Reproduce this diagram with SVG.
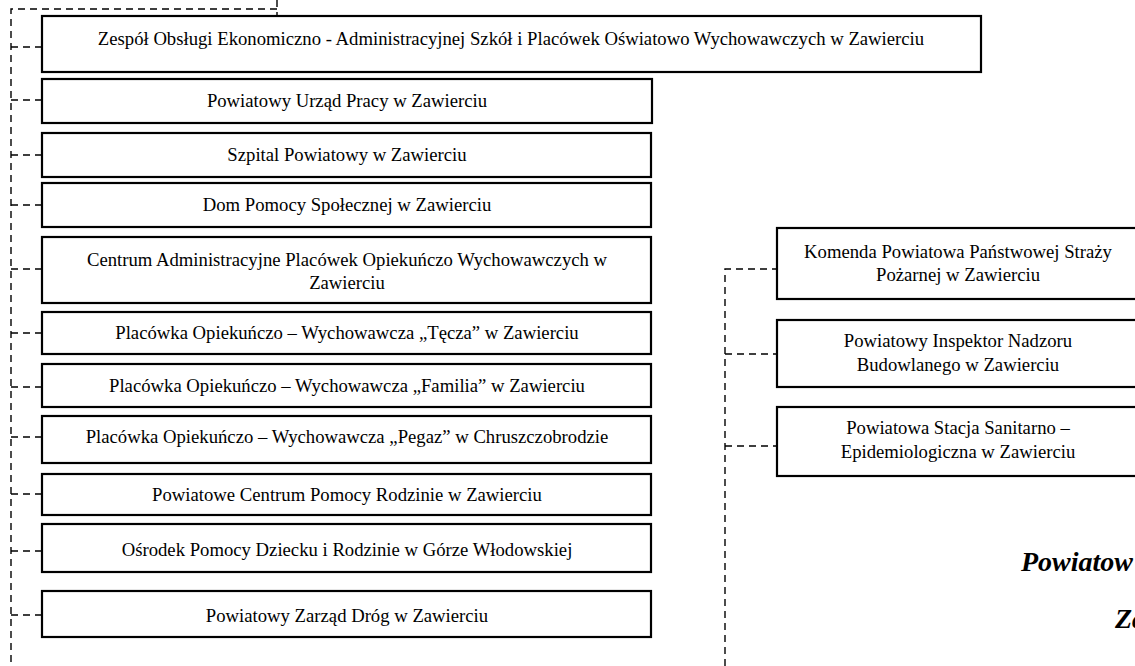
<svg xmlns="http://www.w3.org/2000/svg" width="1135" height="666" viewBox="0 0 1135 666">
<style>
.box{fill:#fff;stroke:#000;stroke-width:2.2}
.t{font-family:"Liberation Serif","Times New Roman",serif;font-size:18.7px;fill:#000;text-anchor:middle}
.d{fill:none;stroke:#000;stroke-width:1.4;stroke-dasharray:7 5}
.title{font-family:"Liberation Serif","Times New Roman",serif;font-size:28px;font-weight:bold;font-style:italic;fill:#000}
</style>
<rect width="1135" height="666" fill="#fff"/>
<g id="connectors">
<path class="d" d="M277 0V16M277 9H11V666"/>
<path class="d" d="M11 47H42M11 100H42M11 155H42M11 205H42M11 269H42M11 333H42M11 387H42M11 437H42M11 494H42M11 551H42M11 615H42"/>
<path class="d" d="M725 666V269H777M725 354H777M725 446H777"/>
</g>
<g id="n1"><rect class="box" x="42" y="16" width="939" height="56"/><text class="t" x="511" y="45">Zespół Obsługi Ekonomiczno - Administracyjnej Szkół i Placówek Oświatowo Wychowawczych w Zawierciu</text></g>
<g id="n2"><rect class="box" x="42" y="79" width="610" height="44"/><text class="t" x="347" y="107">Powiatowy Urząd Pracy w Zawierciu</text></g>
<g id="n3"><rect class="box" x="42" y="133" width="609" height="44"/><text class="t" x="347" y="161">Szpital Powiatowy w Zawierciu</text></g>
<g id="n4"><rect class="box" x="42" y="183" width="609" height="44"/><text class="t" x="347" y="211">Dom Pomocy Społecznej w Zawierciu</text></g>
<g id="n5"><rect class="box" x="42" y="237" width="609" height="66"/><text class="t" x="347" y="266">Centrum Administracyjne Placówek Opiekuńczo Wychowawczych w</text><text class="t" x="347" y="289">Zawierciu</text></g>
<g id="n6"><rect class="box" x="42" y="312" width="609" height="42"/><text class="t" x="347" y="339">Placówka Opiekuńczo – Wychowawcza „Tęcza” w Zawierciu</text></g>
<g id="n7"><rect class="box" x="42" y="364" width="609" height="43"/><text class="t" x="347" y="392">Placówka Opiekuńczo – Wychowawcza „Familia” w Zawierciu</text></g>
<g id="n8"><rect class="box" x="42" y="416" width="609" height="47"/><text class="t" x="347" y="443">Placówka Opiekuńczo – Wychowawcza „Pegaz” w Chruszczobrodzie</text></g>
<g id="n9"><rect class="box" x="42" y="474" width="609" height="41"/><text class="t" x="347" y="501">Powiatowe Centrum Pomocy Rodzinie w Zawierciu</text></g>
<g id="n10"><rect class="box" x="42" y="524" width="609" height="48"/><text class="t" x="347" y="556">Ośrodek Pomocy Dziecku i Rodzinie w Górze Włodowskiej</text></g>
<g id="n11"><rect class="box" x="42" y="591" width="609" height="46"/><text class="t" x="347" y="622">Powiatowy Zarząd Dróg w Zawierciu</text></g>
<g id="r1"><rect class="box" x="777" y="228" width="365" height="71"/><text class="t" x="958" y="258">Komenda Powiatowa Państwowej Straży</text><text class="t" x="958" y="281">Pożarnej w Zawierciu</text></g>
<g id="r2"><rect class="box" x="777" y="320" width="365" height="67"/><text class="t" x="958" y="347">Powiatowy Inspektor Nadzoru</text><text class="t" x="958" y="371">Budowlanego w Zawierciu</text></g>
<g id="r3"><rect class="box" x="777" y="407" width="365" height="69"/><text class="t" x="958" y="434">Powiatowa Stacja Sanitarno –</text><text class="t" x="958" y="458">Epidemiologiczna w Zawierciu</text></g>
<g id="title"><text class="title" x="1021" y="571">Powiatow</text><text class="title" x="1115" y="628">Za</text></g>
</svg>
